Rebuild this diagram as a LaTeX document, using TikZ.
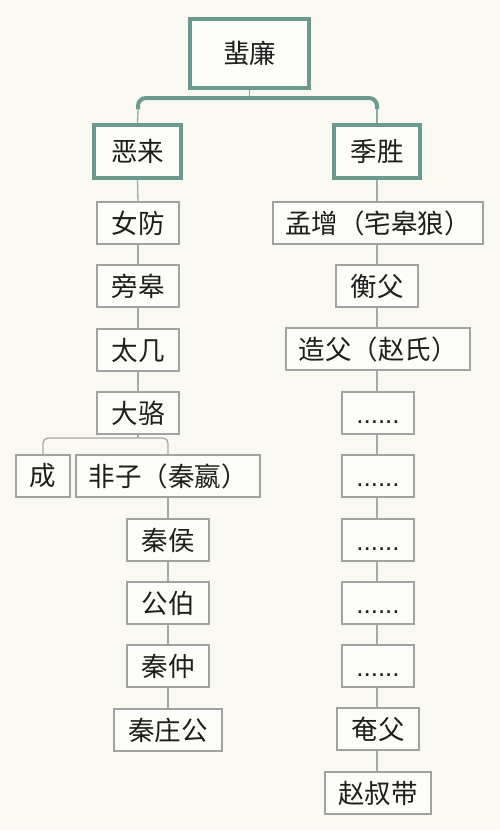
\documentclass[tikz,border=0pt]{standalone}
\usepackage{fontspec}
\newfontfamily\cjk{Noto Sans CJK SC}
\newfontfamily\latn{Liberation Sans}
\definecolor{bgc}{HTML}{F9F8F1}
\definecolor{boxfill}{HTML}{FCFCF8}
\definecolor{boxline}{HTML}{A2A2A0}
\definecolor{conn}{HTML}{A8A8A6}
\definecolor{teal}{HTML}{6C9A8E}
\definecolor{txt}{HTML}{1E1E1E}
\newcommand{\sixdots}{\vphantom{女}{\latn\fontsize{26}{26}\selectfont......}}
\tikzset{
  pbox/.style={draw=boxline, line width=1.3pt, fill=boxfill, inner sep=0pt,
    minimum height=42pt, text=txt, font=\cjk\fontsize{26.5}{26.5}\selectfont},
  tbox/.style={draw=teal, line width=4pt, fill=boxfill, inner sep=0pt,
    text=txt, font=\cjk\fontsize{26.5}{26.5}\selectfont},
  link/.style={draw=conn, line width=1.3pt},
  tlink/.style={draw=teal, line width=4pt, rounded corners=8pt},
}
\begin{document}
\begin{tikzpicture}[x=1pt,y=-1pt]
\fill[bgc] (0,0) rectangle (500,830);
\useasboundingbox (0,0) rectangle (500,830);
% top level
\node[tbox, minimum width=119pt, minimum height=69pt] (feilian) at (249.5,53.5) {蜚廉};
\node[tbox, minimum width=87pt, minimum height=53pt] (elai) at (137.5,151.5) {恶来};
\node[tbox, minimum width=86pt, minimum height=53pt] (jisheng) at (377,151.5) {季胜};
% left column
\node[pbox, minimum width=82pt] (nvfang) at (138,223) {女防};
\node[pbox, minimum width=82pt] (panggao) at (138,286) {旁皋};
\node[pbox, minimum width=82pt] (taiji) at (138,350) {太几};
\node[pbox, minimum width=82pt] (daluo) at (138,413) {大骆};
\node[pbox, minimum width=54pt] (cheng) at (43,476) {成};
\node[pbox, minimum width=184pt] (feizi) at (168,476) {非子（秦嬴）};
\node[pbox, minimum width=82pt] (qinhou) at (168,540) {秦侯};
\node[pbox, minimum width=82pt] (gongbo) at (168,603) {公伯};
\node[pbox, minimum width=82pt] (qinzhong) at (168,666) {秦仲};
\node[pbox, minimum width=108pt] (zhuanggong) at (168,730) {秦庄公};
% right column
\node[pbox, minimum width=210pt] (mengzeng) at (378,223) {孟增（宅皋狼）};
\node[pbox, minimum width=82pt] (hengfu) at (377,286) {衡父};
\node[pbox, minimum width=184pt] (zaofu) at (378,349) {造父（赵氏）};
\node[pbox, minimum width=72pt] (d1) at (378,413) {\sixdots};
\node[pbox, minimum width=72pt] (d2) at (378,476) {\sixdots};
\node[pbox, minimum width=72pt] (d3) at (378,540) {\sixdots};
\node[pbox, minimum width=72pt] (d4) at (378,603) {\sixdots};
\node[pbox, minimum width=72pt] (d5) at (378,666) {\sixdots};
\node[pbox, minimum width=82pt] (yanfu) at (378,729) {奄父};
\node[pbox, minimum width=106pt] (zhaoshudai) at (378,793) {赵叔带};
% top connectors
\coordinate (barL) at (138,109);
\coordinate (barR) at (377,109);
\coordinate (barM) at (249.5,98);
\draw[link, draw=teal!80] (feilian.south) -- (barM);
\draw[tlink] (barL) -- (138,98) -- (377,98) -- (barR);
\draw[link, draw=teal!80] (barL) -- (elai.north);
\draw[link, draw=teal!80] (barR) -- (jisheng.north);
% left chain
\draw[link] (elai.south) -- (nvfang.north);
\draw[link] (nvfang.south) -- (panggao.north);
\draw[link] (panggao.south) -- (taiji.north);
\draw[link] (taiji.south) -- (daluo.north);
\coordinate (br) at (138,438);
\draw[link] (daluo.south) -- (br);
\draw[link, rounded corners=5pt] (cheng.north) -- (cheng.north |- br) -- (feizi.north |- br) -- (feizi.north);
\draw[link] (feizi.south) -- (qinhou.north);
\draw[link] (qinhou.south) -- (gongbo.north);
\draw[link] (gongbo.south) -- (qinzhong.north);
\draw[link] (qinzhong.south) -- (zhuanggong.north);
% right chain
\draw[link] (jisheng.south) -- (mengzeng.north -| jisheng.south);
\draw[link] (mengzeng.south -| jisheng.south) -- (hengfu.north -| jisheng.south);
\draw[link] (hengfu.south -| jisheng.south) -- (zaofu.north -| jisheng.south);
\draw[link] (zaofu.south -| jisheng.south) -- (d1.north -| jisheng.south);
\draw[link] (d1.south -| jisheng.south) -- (d2.north -| jisheng.south);
\draw[link] (d2.south -| jisheng.south) -- (d3.north -| jisheng.south);
\draw[link] (d3.south -| jisheng.south) -- (d4.north -| jisheng.south);
\draw[link] (d4.south -| jisheng.south) -- (d5.north -| jisheng.south);
\draw[link] (d5.south -| jisheng.south) -- (yanfu.north -| jisheng.south);
\draw[link] (yanfu.south -| jisheng.south) -- (zhaoshudai.north -| jisheng.south);
\end{tikzpicture}
\end{document}
